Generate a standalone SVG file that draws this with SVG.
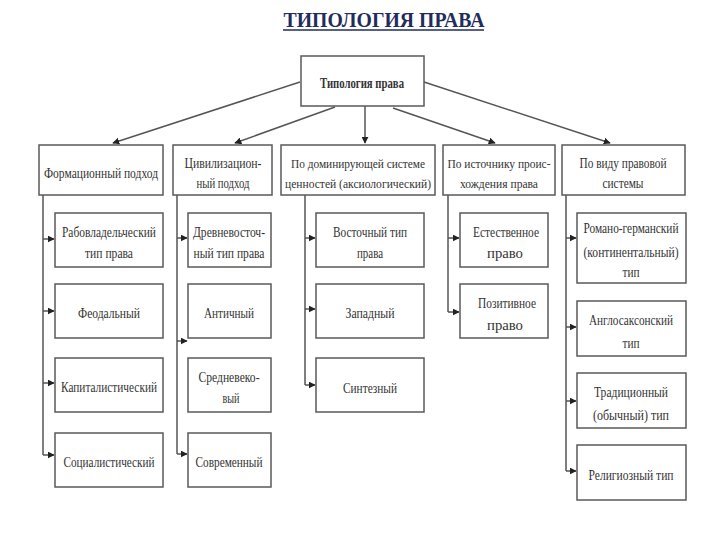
<svg xmlns="http://www.w3.org/2000/svg" width="720" height="540" viewBox="0 0 720 540">
<style>
.b{fill:#fff;stroke:#5a5a5a;stroke-width:1.5}
.t{font-family:"Liberation Serif","Times New Roman",serif;font-size:14px;fill:#333;text-anchor:middle}
.s{font-size:13px}
.c{stroke:#555;stroke-width:1.5;fill:none}
.a{stroke:#555;stroke-width:1.5;fill:none;marker-end:url(#ah)}
</style>
<defs>
<marker id="ah" viewBox="0 0 10 10" refX="9" refY="5" markerWidth="7" markerHeight="7" markerUnits="userSpaceOnUse" orient="auto">
<path d="M0,0 L10,5 L0,10 z" fill="#222"/>
</marker>
</defs>
<rect width="720" height="540" fill="#fff"/>
<g id="title">
<text x="384" y="27" font-family="'Liberation Serif','Times New Roman',serif" font-weight="bold" font-size="20" fill="#1f2d5c" text-anchor="middle" textLength="201" lengthAdjust="spacingAndGlyphs">ТИПОЛОГИЯ ПРАВА</text>
<line x1="283" y1="30" x2="484" y2="30" stroke="#1f2d5c" stroke-width="1.5"/>
</g>
<g id="connectors">
<line class="a" x1="300" y1="82" x2="113" y2="143"/>
<line class="a" x1="335" y1="107" x2="235" y2="143"/>
<line class="a" x1="365" y1="106" x2="365" y2="143"/>
<line class="a" x1="393" y1="108" x2="495" y2="143"/>
<line class="a" x1="424" y1="82" x2="610" y2="143"/>
<polyline class="c" points="43,195 43,455"/>
<line class="a" x1="43" y1="239" x2="54" y2="239"/>
<line class="a" x1="43" y1="311" x2="54" y2="311"/>
<line class="a" x1="43" y1="383" x2="54" y2="383"/>
<line class="a" x1="43" y1="455" x2="54" y2="455"/>
<polyline class="c" points="177,195 177,454"/>
<line class="a" x1="177" y1="238" x2="187" y2="238"/>
<line class="a" x1="177" y1="341" x2="187" y2="341"/>
<line class="a" x1="177" y1="454" x2="187" y2="454"/>
<polyline class="c" points="305,195 305,385"/>
<line class="a" x1="305" y1="238" x2="315" y2="238"/>
<line class="a" x1="305" y1="309" x2="315" y2="309"/>
<line class="a" x1="305" y1="385" x2="315" y2="385"/>
<polyline class="c" points="448,195 448,312"/>
<line class="a" x1="448" y1="238" x2="459" y2="238"/>
<line class="a" x1="448" y1="312" x2="459" y2="312"/>
<polyline class="c" points="566,195 566,471"/>
<line class="a" x1="566" y1="238" x2="576" y2="238"/>
<line class="a" x1="566" y1="327" x2="576" y2="327"/>
<line class="a" x1="566" y1="401" x2="576" y2="401"/>
<line class="a" x1="566" y1="471" x2="576" y2="471"/>
</g>
<g id="root">
<rect class="b" x="301" y="56" width="123" height="50"/>
<text class="t" x="362" y="88" font-weight="bold" textLength="84" lengthAdjust="spacingAndGlyphs">Типология права</text>
</g>
<g id="n1">
<rect class="b" x="39" y="145" width="124" height="50"/>
<text class="t" x="101" y="178" textLength="114" lengthAdjust="spacingAndGlyphs">Формационный подход</text>
</g>
<g id="n2">
<rect class="b" x="173" y="145" width="99" height="50"/>
<text class="t" x="223" y="168" textLength="77" lengthAdjust="spacingAndGlyphs">Цивилизацион-</text>
<text class="t" x="223" y="188" textLength="53" lengthAdjust="spacingAndGlyphs">ный подход</text>
</g>
<g id="n3">
<rect class="b" x="281" y="145" width="154" height="50"/>
<text class="t s" x="358" y="168" textLength="134" lengthAdjust="spacingAndGlyphs">По доминирующей системе</text>
<text class="t s" x="358" y="188" textLength="146" lengthAdjust="spacingAndGlyphs">ценностей (аксиологический)</text>
</g>
<g id="n4">
<rect class="b" x="443" y="145" width="112" height="50"/>
<text class="t s" x="499" y="168" textLength="103" lengthAdjust="spacingAndGlyphs">По источнику проис-</text>
<text class="t s" x="499" y="188" textLength="78" lengthAdjust="spacingAndGlyphs">хождения права</text>
</g>
<g id="n5">
<rect class="b" x="562" y="145" width="123" height="50"/>
<text class="t" x="623" y="168" textLength="87" lengthAdjust="spacingAndGlyphs">По виду правовой</text>
<text class="t" x="623" y="188" textLength="41" lengthAdjust="spacingAndGlyphs">системы</text>
</g>
<g id="n1a">
<rect class="b" x="55" y="213" width="108" height="54"/>
<text class="t" x="109" y="237" textLength="94" lengthAdjust="spacingAndGlyphs">Рабовладельческий</text>
<text class="t" x="109" y="258" textLength="48" lengthAdjust="spacingAndGlyphs">тип права</text>
</g>
<g id="n1b">
<rect class="b" x="55" y="284" width="108" height="54"/>
<text class="t" x="109" y="318" textLength="62" lengthAdjust="spacingAndGlyphs">Феодальный</text>
</g>
<g id="n1c">
<rect class="b" x="55" y="358" width="108" height="54"/>
<text class="t" x="109" y="392" textLength="96" lengthAdjust="spacingAndGlyphs">Капиталистический</text>
</g>
<g id="n1d">
<rect class="b" x="55" y="433" width="108" height="54"/>
<text class="t" x="109" y="467" textLength="91" lengthAdjust="spacingAndGlyphs">Социалистический</text>
</g>
<g id="n2a">
<rect class="b" x="188" y="213" width="83" height="54"/>
<text class="t" x="229" y="237" textLength="72" lengthAdjust="spacingAndGlyphs">Древневосточ-</text>
<text class="t" x="229" y="258" textLength="71" lengthAdjust="spacingAndGlyphs">ный тип права</text>
</g>
<g id="n2b">
<rect class="b" x="188" y="284" width="83" height="54"/>
<text class="t" x="229" y="318" textLength="50" lengthAdjust="spacingAndGlyphs">Античный</text>
</g>
<g id="n2c">
<rect class="b" x="188" y="358" width="83" height="54"/>
<text class="t" x="229" y="382" textLength="61" lengthAdjust="spacingAndGlyphs">Средневеко-</text>
<text class="t" x="231" y="403" textLength="17" lengthAdjust="spacingAndGlyphs">вый</text>
</g>
<g id="n2d">
<rect class="b" x="188" y="433" width="83" height="54"/>
<text class="t" x="229" y="467" textLength="67" lengthAdjust="spacingAndGlyphs">Современный</text>
</g>
<g id="n3a">
<rect class="b" x="316" y="213" width="108" height="54"/>
<text class="t" x="370" y="237" textLength="74" lengthAdjust="spacingAndGlyphs">Восточный тип</text>
<text class="t" x="370" y="258" textLength="26" lengthAdjust="spacingAndGlyphs">права</text>
</g>
<g id="n3b">
<rect class="b" x="316" y="284" width="108" height="54"/>
<text class="t" x="370" y="318" textLength="49" lengthAdjust="spacingAndGlyphs">Западный</text>
</g>
<g id="n3c">
<rect class="b" x="316" y="358" width="108" height="54"/>
<text class="t" x="370" y="393" textLength="54" lengthAdjust="spacingAndGlyphs">Синтезный</text>
</g>
<g id="n4a">
<rect class="b" x="460" y="213" width="88" height="54"/>
<text class="t" x="506" y="237" textLength="66" lengthAdjust="spacingAndGlyphs">Естественное</text>
<text class="t" x="505" y="258" textLength="36" lengthAdjust="spacingAndGlyphs">право</text>
</g>
<g id="n4b">
<rect class="b" x="460" y="284" width="88" height="54"/>
<text class="t" x="507" y="308" textLength="58" lengthAdjust="spacingAndGlyphs">Позитивное</text>
<text class="t" x="505" y="330" textLength="36" lengthAdjust="spacingAndGlyphs">право</text>
</g>
<g id="n5a">
<rect class="b" x="577" y="213" width="109" height="70"/>
<text class="t" x="631" y="233" textLength="95" lengthAdjust="spacingAndGlyphs">Романо-германский</text>
<text class="t" x="631" y="257" textLength="95" lengthAdjust="spacingAndGlyphs">(континентальный)</text>
<text class="t" x="631" y="277" textLength="17" lengthAdjust="spacingAndGlyphs">тип</text>
</g>
<g id="n5b">
<rect class="b" x="577" y="301" width="109" height="55"/>
<text class="t" x="631" y="325" textLength="84" lengthAdjust="spacingAndGlyphs">Англосаксонский</text>
<text class="t" x="631" y="348" textLength="17" lengthAdjust="spacingAndGlyphs">тип</text>
</g>
<g id="n5c">
<rect class="b" x="577" y="373" width="109" height="55"/>
<text class="t" x="631" y="397" textLength="74" lengthAdjust="spacingAndGlyphs">Традиционный</text>
<text class="t" x="631" y="420" textLength="76" lengthAdjust="spacingAndGlyphs">(обычный) тип</text>
</g>
<g id="n5d">
<rect class="b" x="577" y="445" width="109" height="55"/>
<text class="t" x="631" y="480" textLength="85" lengthAdjust="spacingAndGlyphs">Религиозный тип</text>
</g>
</svg>
